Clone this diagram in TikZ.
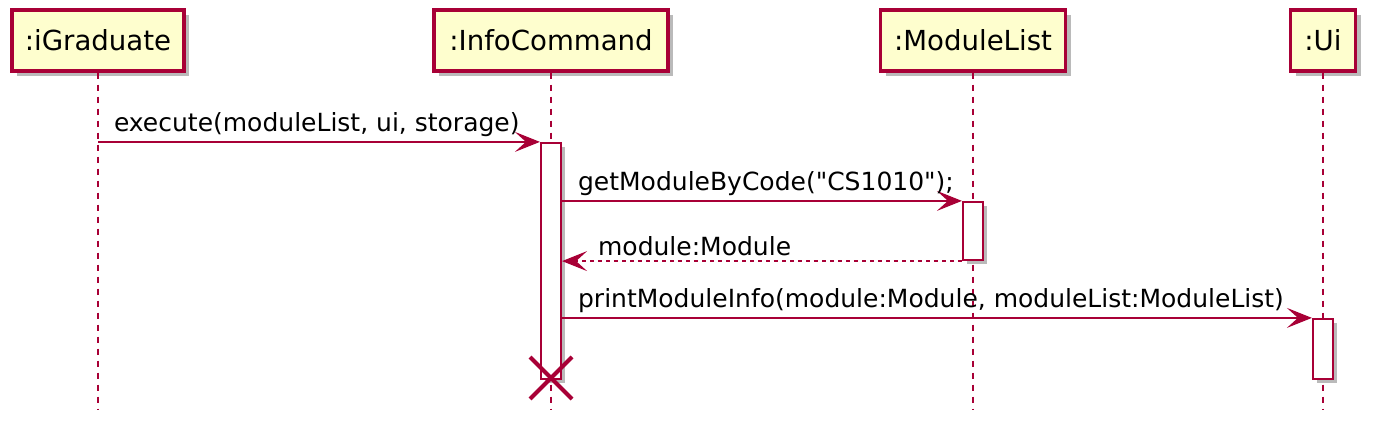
\documentclass[tikz,border=0pt]{standalone}
\usepackage{fontspec}
\setmainfont{DejaVu Sans}[Ligatures=TeXOff]
\usetikzlibrary{shapes.misc, positioning, shadows}
\usetikzlibrary{arrows.meta}
\definecolor{umlred}{HTML}{A80036}
\definecolor{umlfill}{HTML}{FEFECE}
\tikzset{>={Stealth[length=12.5pt, width=10pt, inset=5.5pt]}}

\begin{document}
\begin{tikzpicture}[x=0.5pt, y=-0.5pt, part/.style={rectangle, draw=umlred, fill=umlfill, line width=1.75pt, minimum height=30.5pt, inner sep=0pt, font=\fontsize{13.8}{16}\selectfont, drop shadow={shadow xshift=2.5pt, shadow yshift=-2.5pt, fill=black!60, opacity=0.45}}, act/.style={rectangle, draw=umlred, fill=white, line width=1.1pt, minimum width=10pt, inner sep=0pt, drop shadow={shadow xshift=2pt, shadow yshift=-2pt, fill=black!60, opacity=0.45}}, life/.style={draw=umlred, line width=0.75pt, dash pattern=on 3pt off 3pt}, msg/.style={->, draw=umlred, line width=1pt}, ret/.style={msg, dash pattern=on 2pt off 2pt}, lbl/.style={font=\fontsize{12.5}{15}\selectfont, text=black, inner xsep=7.5pt, inner ysep=2pt}, destroy/.style={cross out, draw=umlred, line width=2pt, minimum size=19pt, inner sep=0pt}]
    \useasboundingbox (0,0) rectangle (1377,427);

    %Nodes
    \node[part, minimum width=86pt](igraduate) at (98,40.5){:iGraduate};
    \node[part, minimum width=117pt](infocmd) at (551,40.5){:InfoCommand};
    \node[part, minimum width=92.5pt](modlist) at (973,40.5){:ModuleList};
    \node[part, minimum width=32.5pt](ui) at (1323,40.5){:Ui};
    \coordinate (bottom) at (0,410);

    %Lifelines
    \draw[life] (igraduate.south) -- (igraduate.south |- bottom);
    \draw[life] (infocmd.south) -- (infocmd.south |- bottom);
    \draw[life] (modlist.south) -- (modlist.south |- bottom);
    \draw[life] (ui.south) -- (ui.south |- bottom);

    %Activations
    \node[act, minimum height=118pt](infoact) at (551,261){};
    \node[act, minimum height=29pt](modact) at (973,231){};
    \node[act, minimum height=30pt](uiact) at (1323,349){};
    \node[destroy](kill) at (551,378){};

    %Messages
    \draw[msg] (igraduate |- infoact.north) -- (infoact.north west) node[lbl, at start, anchor=south west]{execute(moduleList, ui, storage)};
    \draw[msg] (infoact.east |- modact.north) -- (modact.north west) node[lbl, at start, anchor=south west]{getModuleByCode("CS1010");};
    \draw[ret] (modact.south west) -- (infoact.east |- modact.south) node[lbl, at end, anchor=south west, xshift=10pt]{module:Module};
    \draw[msg] (infoact.east |- uiact.north) -- (uiact.north west) node[lbl, at start, anchor=south west]{printModuleInfo(module:Module, moduleList:ModuleList)};

\end{tikzpicture}
\end{document}
